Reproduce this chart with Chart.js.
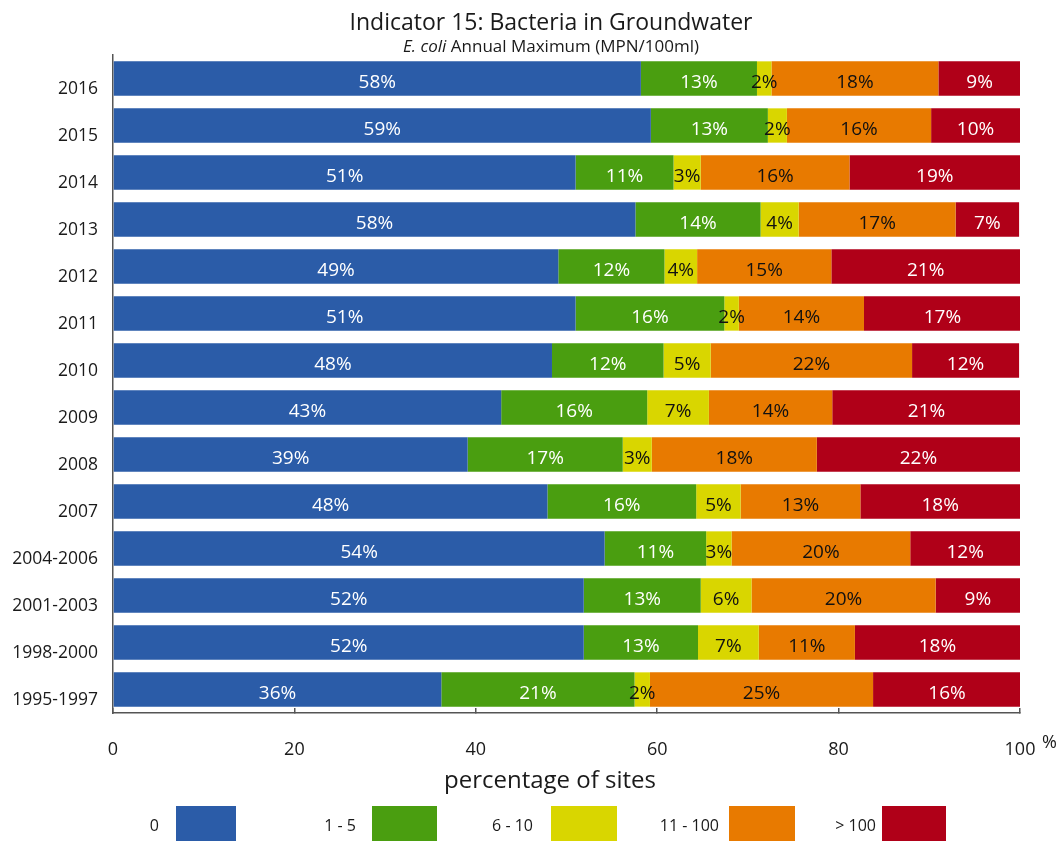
<!DOCTYPE html>
<html>
<head>
<meta charset="utf-8">
<script src="https://cdn.jsdelivr.net/npm/chart.js@4"></script>
<style>
html,body{margin:0;padding:0;background:#fff;}
#wrap{position:relative;width:1059px;height:841px;font-family:"Open Sans",sans-serif;color:#1a1a1a;overflow:hidden;}
#chart{position:absolute;left:0;top:0;}
.title{position:absolute;left:551px;transform:translateX(-50%);white-space:nowrap;}
#t1{top:6px;font-size:23px;line-height:30px;}
#t2{top:35px;font-size:17px;line-height:22px;}
#xtitle{position:absolute;left:550px;top:764px;transform:translateX(-50%);font-size:24px;line-height:30px;white-space:nowrap;}
#pct{position:absolute;left:1042px;top:731px;font-size:18px;line-height:20px;}
.lg-text{position:absolute;top:825px;font-size:16px;line-height:20px;white-space:nowrap;transform:translate(-100%,-50%);}
.lg-box{position:absolute;top:806px;height:35px;}
</style>
</head>
<body>
<div id="wrap">
  <canvas id="chart" width="1059" height="841"></canvas>
  <div class="title" id="t1">Indicator 15: Bacteria in Groundwater</div>
  <div class="title" id="t2"><i>E. coli</i> Annual Maximum (MPN/100ml)</div>
  <div id="xtitle"></div>
  <div id="pct">%</div>
  <div id="legend"></div>
</div>
<script>
// ---- data ----
const categories = ['2016','2015','2014','2013','2012','2011','2010','2009','2008','2007','2004-2006','2001-2003','1998-2000','1995-1997'];
const seriesNames = ['0','1 - 5','6 - 10','11 - 100','> 100'];
const zeroCount      = [58.2, 59.3, 51.0, 57.6, 49.1, 51.0, 48.4, 42.8, 39.1, 47.9, 54.2, 51.9, 51.9, 36.2];
const oneToFive      = [12.8, 12.9, 10.8, 13.8, 11.7, 16.4, 12.3, 16.1, 17.1, 16.4, 11.2, 12.9, 12.6, 21.3];
const sixToTen       = [1.6, 2.1, 3.0, 4.2, 3.6, 1.6, 5.2, 6.8, 3.2, 4.9, 2.8, 5.6, 6.7, 1.7];
const elevenToHundred= [18.4, 15.9, 16.4, 17.3, 14.8, 13.8, 22.2, 13.6, 18.2, 13.2, 19.7, 20.3, 10.6, 24.6];
const overHundred    = [9.1, 9.8, 18.8, 7.0, 20.8, 17.3, 11.8, 20.8, 22.4, 17.6, 12.1, 9.3, 18.2, 16.3];
const xTickValues = [0, 20, 40, 60, 80, 100];
const axisTitle = 'percentage of sites';

// ---- styles ----
const fills = ['#2b5ca8', '#4a9e10', '#d9d600', '#e87a00', '#b00018'];
const labelColors = ['#ffffff', '#ffffff', '#111111', '#111111', '#ffffff'];
const legendBoxLeft = [176, 372, 551, 729, 882];
const legendBoxWidth = [60, 65, 66, 66, 64];
const legendTextRight = [159, 356, 533, 719, 876];
const FONT = '"Open Sans", sans-serif';

const seriesData = [zeroCount, oneToFive, sixToTen, elevenToHundred, overHundred];

const valueLabels = {
  id: 'valueLabels',
  afterDatasetsDraw(chart) {
    const ctx = chart.ctx;
    ctx.save();
    ctx.font = '19px ' + FONT;
    ctx.textAlign = 'center';
    ctx.textBaseline = 'middle';
    chart.data.datasets.forEach((ds, i) => {
      const meta = chart.getDatasetMeta(i);
      meta.data.forEach((bar, j) => {
        const v = ds.data[j];
        ctx.fillStyle = labelColors[i];
        ctx.fillText(Math.round(v) + '%', (bar.x + bar.base) / 2, bar.y + 4);
      });
    });
    ctx.restore();
  }
};

const chart = new Chart(document.getElementById('chart'), {
  type: 'bar',
  data: {
    labels: categories,
    datasets: seriesData.map((d, i) => ({
      label: seriesNames[i],
      data: d,
      backgroundColor: fills[i],
      borderWidth: 0,
      barPercentage: 0.73,
      categoryPercentage: 1.0
    }))
  },
  options: {
    indexAxis: 'y',
    responsive: false,
    animation: false,
    layout: { padding: { top: 55, left: 0, right: 39, bottom: 0 } },
    plugins: {
      legend: { display: false },
      title: { display: false },
      tooltip: { enabled: false }
    },
    scales: {
      x: {
        stacked: true,
        min: 0,
        max: 100,
        afterBuildTicks(scale) { scale.ticks = xTickValues.map(v => ({ value: v })); },
        afterFit(scale) { scale.height = 128; scale.paddingLeft = 0; scale.paddingRight = 0; },
        grid: { display: true, drawOnChartArea: false, drawTicks: true, tickLength: -5, color: '#555', lineWidth: 1.5 },
        border: { display: true, color: '#555', width: 1.5 },
        ticks: { font: { family: FONT, size: 18 }, color: '#1a1a1a', padding: 31, maxRotation: 0 },
        title: { display: false, text: axisTitle }
      },
      y: {
        stacked: true,
        afterFit(scale) { scale.width = 113; },
        grid: { display: false },
        border: { display: true, color: '#555', width: 1.5 },
        ticks: { font: { family: FONT, size: 17.5 }, color: '#1a1a1a', padding: 7, labelOffset: 11 }
      }
    }
  },
  plugins: [valueLabels]
});

document.getElementById('xtitle').textContent = chart.options.scales.x.title.text;

// ---- HTML legend built from the datasets ----
const legend = document.getElementById('legend');
chart.data.datasets.forEach((ds, i) => {
  const t = document.createElement('div');
  t.className = 'lg-text';
  t.style.left = legendTextRight[i] + 'px';
  t.textContent = ds.label;
  legend.appendChild(t);
  const b = document.createElement('div');
  b.className = 'lg-box';
  b.style.left = legendBoxLeft[i] + 'px';
  b.style.width = legendBoxWidth[i] + 'px';
  b.style.background = ds.backgroundColor;
  legend.appendChild(b);
});
</script>
</body>
</html>
